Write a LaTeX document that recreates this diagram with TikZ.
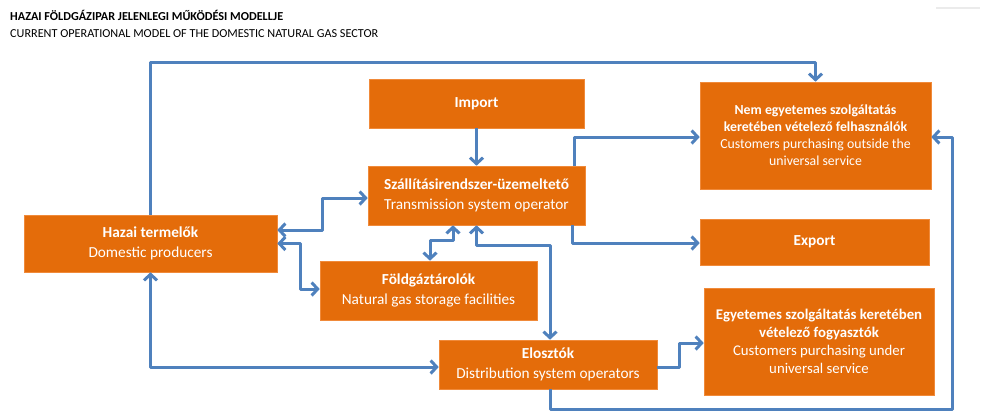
\documentclass[tikz,border=0pt]{standalone}
\usepackage{fontspec}
\setmainfont{Carlito}
\usetikzlibrary{arrows.meta}
\definecolor{boxorange}{HTML}{E46C0A}
\definecolor{boxedge}{HTML}{F08A3A}
\definecolor{connblue}{HTML}{4F81BD}
\tikzset{
  box/.style={fill=boxorange, draw=boxedge, line width=0.6pt, inner sep=0pt, align=center,
    text=white, font=\fontsize{15.3}{20}\selectfont},
  nembox/.style={box, font=\fontsize{13.8}{17}\selectfont},
  egybox/.style={box, font=\fontsize{14.8}{18}\selectfont},
  conn/.style={draw=connblue, line width=3pt, line join=round,
    arrows={-}, >={Straight Barb[length=6pt,width=13pt,line width=3pt]}},
  titletext/.style={anchor=base west, inner sep=0pt, font=\fontsize{12.2}{14}\selectfont}
}
\begin{document}
\begin{tikzpicture}[x=1pt,y=-1pt]
\useasboundingbox (0,0) rectangle (981,413);
\fill[white] (0,0) rectangle (981,413);
\draw[black!8, line width=2pt] (936,8) -- (980,8);

\node[titletext] (t1) at (10,20) {\textbf{HAZAI FÖLDGÁZIPAR JELENLEGI MŰKÖDÉSI MODELLJE}};
\node[titletext] (t2) at (10,37) {CURRENT OPERATIONAL MODEL OF THE DOMESTIC NATURAL GAS SECTOR};

\node[box, minimum width=215pt, minimum height=49pt] (imp) at (476.5,103.5) {\textbf{Import}};
\node[box, minimum width=217pt, minimum height=59pt] (tso) at (476.5,195.5) {\textbf{Szállításirendszer-üzemeltető}\\Transmission system operator};
\node[box, minimum width=253pt, minimum height=57pt] (haz) at (150.5,243.5) {\textbf{Hazai termelők}\\Domestic producers};
\node[box, minimum width=217pt, minimum height=59pt] (fold) at (428.5,290.5) {\textbf{Földgáztárolók}\\Natural gas storage facilities};
\node[box, minimum width=218pt, minimum height=49pt] (elo) at (548,364.5) {\textbf{Elosztók}\\Distribution system operators};
\node[nembox, minimum width=231pt, minimum height=107pt] (nem) at (815.5,135.5) {\textbf{Nem egyetemes szolgáltatás}\\\textbf{keretében vételező felhasználók}\\Customers purchasing outside the\\universal service};
\node[box, minimum width=229pt, minimum height=46pt] (exp) at (814.5,242) {\textbf{Export}};
\node[egybox, minimum width=230pt, minimum height=107pt] (egy) at (819,341.5) {\textbf{Egyetemes szolgáltatás keretében}\\\textbf{vételező fogyasztók}\\Customers purchasing under\\universal service};

% connectors
\draw[conn,->] (haz.north) -- ++(0,-152) -| (nem.north);
\draw[conn,->] (imp.south) -- (tso.north);
\draw[conn,<->] ([yshift=13.5pt]haz.east) -- ++(45,0) |- ([yshift=-2.5pt]tso.west);
\draw[conn,<->] (haz.east) -- ++(23,0) |- ([yshift=1.5pt]fold.west);
\draw[conn,<->] ([xshift=1.5pt]fold.north) -- ++(0,-20) -| ([xshift=-23.5pt]tso.south);
\draw[conn,<->] (tso.south) -- ++(0,20) -| ([xshift=2pt]elo.north);
\draw[conn,<->] (haz.south) |- ([yshift=-2.5pt]elo.west);
\draw[conn,->] ([yshift=-2.5pt]elo.east) -- ++(22,0) |- ([yshift=-1.5pt]egy.west);
\draw[conn,->] ([xshift=97.5pt]tso.north) |- ([yshift=-1.5pt]nem.west);
\draw[conn,->] ([xshift=95.5pt]tso.south) |- ([yshift=-1pt]exp.west);
\draw[conn,->] ([xshift=2pt]elo.south) -- ++(0,20) -| ([xshift=21pt,yshift=-1.5pt]nem.east) -- ([yshift=-1.5pt]nem.east);
\end{tikzpicture}
\end{document}
